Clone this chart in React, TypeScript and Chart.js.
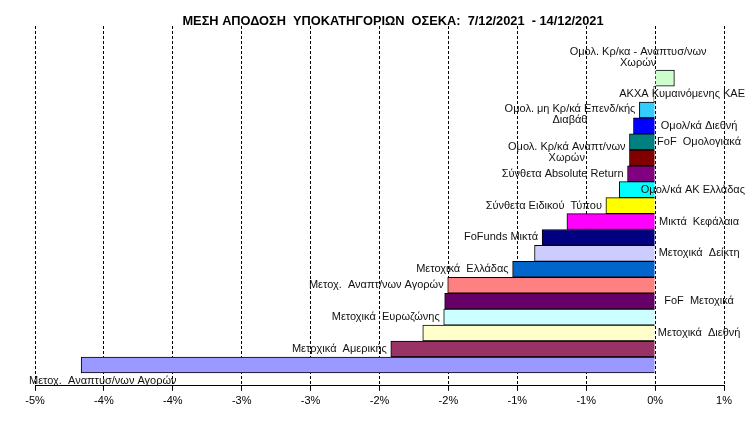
import { useEffect, useRef } from 'react';
import { Chart, registerables } from 'chart.js';

Chart.register(...registerables);

const chartTitle = 'ΜΕΣΗ ΑΠΟΔΟΣΗ  ΥΠΟΚΑΤΗΓΟΡΙΩΝ  ΟΣΕΚΑ:  7/12/2021  - 14/12/2021';

const categories: string[][] = [
  ['Ομολ. Κρ/κα - Αναπτυσ/νων', 'Χωρών'],
  ['ΑΚΧΑ Κυμαινόμενης ΚΑΕ'],
  ['Ομολ. μη Κρ/κά Επενδ/κής', 'Διαβάθ'],
  ['Ομολ/κά Διεθνή'],
  ['FoF  Ομολογιακά'],
  ['Ομολ. Κρ/κά Αναπτ/νων', 'Χωρών'],
  ['Σύνθετα Absolute Return'],
  ['Ομολ/κά ΑΚ Ελλάδας'],
  ['Σύνθετα Ειδικού  Τύπου'],
  ['Μικτά  Κεφάλαια'],
  ['FoFunds Μικτά'],
  ['Μετοχικά  Δείκτη'],
  ['Μετοχικά  Ελλάδας'],
  ['Μετοχ.  Αναπτ/νων Αγορών'],
  ['FoF  Μετοχικά'],
  ['Μετοχικά  Ευρωζώνης'],
  ['Μετοχικά  Διεθνή'],
  ['Μετρχικά  Αμερικής'],
  ['Μετοχ.  Αναπτυσ/νων Αγορών'],
];

// weekly average return, %
const returns: number[] = [
  0.14, -0.01, -0.114, -0.157, -0.186, -0.186, -0.2, -0.26, -0.357, -0.64,
  -0.82, -0.875, -1.034, -1.505, -1.527, -1.534, -1.686, -1.918, -4.165,
];

const barColors: string[] = [
  '#CCFFCC', '#FFFFFF', '#33CCFF', '#0000FF', '#008080', '#800000', '#800080',
  '#00FFFF', '#FFFF00', '#FF00FF', '#000080', '#CCCCFF', '#0066CC', '#FF8080',
  '#660066', '#CCFFFF', '#FFFFCC', '#993366', '#9999FF',
];

// where each category name sits: L = left of bar end (LD: first line on bar,
// LU: last line on bar), R = right of zero line, T = above the bar,
// B = below the bar at the left edge
const labelSides: string[] = [
  'T', 'R', 'LD', 'R', 'R', 'LU', 'L', 'R', 'L', 'R', 'L', 'R', 'L', 'L', 'R', 'L', 'R', 'L', 'B',
];

const xMin = -4.5;
const xMax = 0.5;
const xStep = 0.5;

const FONT = 'Arial, "Liberation Sans", sans-serif';

const titlePlugin = {
  id: 'customTitle',
  afterDraw(chart: any) {
    const ctx = chart.ctx;
    ctx.save();
    ctx.font = `bold 12.8px ${FONT}`;
    ctx.fillStyle = '#000';
    ctx.textAlign = 'center';
    ctx.textBaseline = 'middle';
    ctx.fillText(chartTitle, 393, 21);
    ctx.restore();
  },
};

const labelPlugin = {
  id: 'catLabels',
  afterDatasetsDraw(chart: any) {
    const ctx = chart.ctx;
    const meta = chart.getDatasetMeta(0);
    const xs = chart.scales.x;
    const zero = xs.getPixelForValue(0);
    const lh = 11;
    ctx.save();
    ctx.font = `11px ${FONT}`;
    ctx.fillStyle = '#111';
    ctx.textAlign = 'center';
    ctx.textBaseline = 'middle';
    meta.data.forEach((bar: any, i: number) => {
      const { x, y, base, height } = bar.getProps(['x', 'y', 'base', 'height'], true);
      const lines = categories[i];
      const n = lines.length;
      const w = Math.max(...lines.map((l) => ctx.measureText(l).width));
      const side = labelSides[i];
      const left = Math.min(x, base);
      let cx = 0;
      let top = y - ((n - 1) * lh) / 2;
      if (side === 'R') {
        cx = zero + 44;
        if (cx + w / 2 > chart.width - 5) cx = chart.width - 5 - w / 2;
      } else if (side === 'L' || side === 'LD' || side === 'LU') {
        cx = left - 4 - w / 2;
        if (side === 'LD') top = y - 1;
        if (side === 'LU') top = y - (n - 1) * lh;
      } else if (side === 'T') {
        cx = zero - 17;
        top = y - height / 2 - 7 - (n - 1) * lh;
      } else {
        cx = chart.chartArea.left - 6 + w / 2;
        top = y + height / 2 + 8;
      }
      lines.forEach((l, k) => ctx.fillText(l, cx, top + k * lh));
    });
    ctx.restore();
  },
};

export default function App() {
  const ref = useRef<HTMLCanvasElement | null>(null);

  useEffect(() => {
    document.body.style.margin = '0';
    if (!ref.current) return;
    const chart = new Chart(ref.current, {
      type: 'bar',
      data: {
        datasets: [
          {
            data: returns.map((v, i) => ({ x: v, y: i })),
            backgroundColor: barColors,
            borderColor: '#000',
            borderWidth: 1,
            barPercentage: 1,
            categoryPercentage: 1,
          },
        ],
      },
      options: {
        indexAxis: 'y',
        animation: false,
        responsive: true,
        maintainAspectRatio: false,
        layout: { padding: { left: 35, right: 26, top: 26, bottom: 9 } },
        plugins: {
          legend: { display: false },
          tooltip: { enabled: false },
          title: { display: false },
        },
        scales: {
          x: {
            type: 'linear',
            min: xMin,
            max: xMax,
            grid: {
              color: '#000',
              lineWidth: 1,
              tickLength: 5,
              tickColor: '#000',
            },
            border: { display: true, color: '#000', width: 1, dash: [3, 2] },
            ticks: {
              stepSize: xStep,
              autoSkip: false,
              maxRotation: 0,
              padding: 4,
              color: '#000',
              font: { family: FONT, size: 11 },
              callback: (v: any) => {
                const n = Number(v);
                const r = Math.sign(n) * Math.round(Math.abs(n));
                return `${r === 0 ? 0 : r}%`;
              },
            },
          },
          y: {
            type: 'linear',
            display: false,
            reverse: true,
            offset: false,
            min: -3.27,
            max: 19.31,
            grid: { display: false },
          },
        },
      },
      plugins: [labelPlugin, titlePlugin],
    });
    return () => chart.destroy();
  }, []);

  return (
    <div style={{ width: 750, height: 421, position: 'relative' }}>
      <canvas ref={ref} />
    </div>
  );
}
